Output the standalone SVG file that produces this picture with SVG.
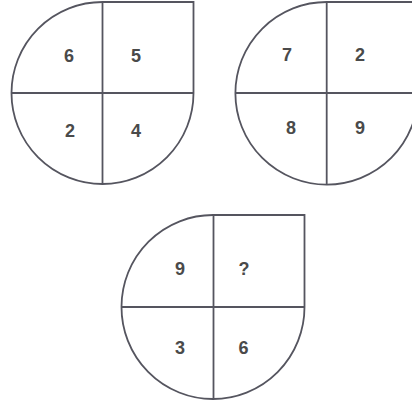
<svg xmlns="http://www.w3.org/2000/svg" width="412" height="405" viewBox="0 0 412 405">
<style>
.shape{fill:none;stroke:#55555f;stroke-width:1.8}
.num{font-family:"Liberation Sans",Arial,sans-serif;font-size:18px;font-weight:bold;fill:#4a4a4a;text-anchor:middle;dominant-baseline:central}
</style>
<rect width="412" height="405" fill="#ffffff"/>
<g id="figure1">
<path class="shape" d="M102.5,2 L193.5,2 L193.5,93 A91,91 0 1 1 102.5,2 Z"/>
<line class="shape" x1="102.5" y1="2" x2="102.5" y2="184"/>
<line class="shape" x1="11.5" y1="93" x2="193.5" y2="93"/>
<text class="num" x="69" y="56">6</text>
<text class="num" x="136" y="56">5</text>
<text class="num" x="70" y="131">2</text>
<text class="num" x="136" y="131">4</text>
</g>
<g id="figure2">
<path class="shape" d="M326.7,2 L418,2 L418,93 A91.3,91.3 0 1 1 326.7,2 Z"/>
<line class="shape" x1="326.7" y1="2" x2="326.7" y2="184.5"/>
<line class="shape" x1="235.4" y1="93" x2="418" y2="93"/>
<text class="num" x="287" y="55">7</text>
<text class="num" x="360" y="55">2</text>
<text class="num" x="291" y="128">8</text>
<text class="num" x="360" y="128">9</text>
</g>
<g id="figure3">
<path class="shape" d="M213.5,215 L304.5,215 L304.5,307 A91.5,92 0 1 1 213.5,215 Z"/>
<line class="shape" x1="213.5" y1="215" x2="213.5" y2="399"/>
<line class="shape" x1="122" y1="307" x2="304.5" y2="307"/>
<text class="num" x="180" y="269">9</text>
<text class="num" x="244" y="269">?</text>
<text class="num" x="180" y="348">3</text>
<text class="num" x="243.5" y="348">6</text>
</g>
</svg>
